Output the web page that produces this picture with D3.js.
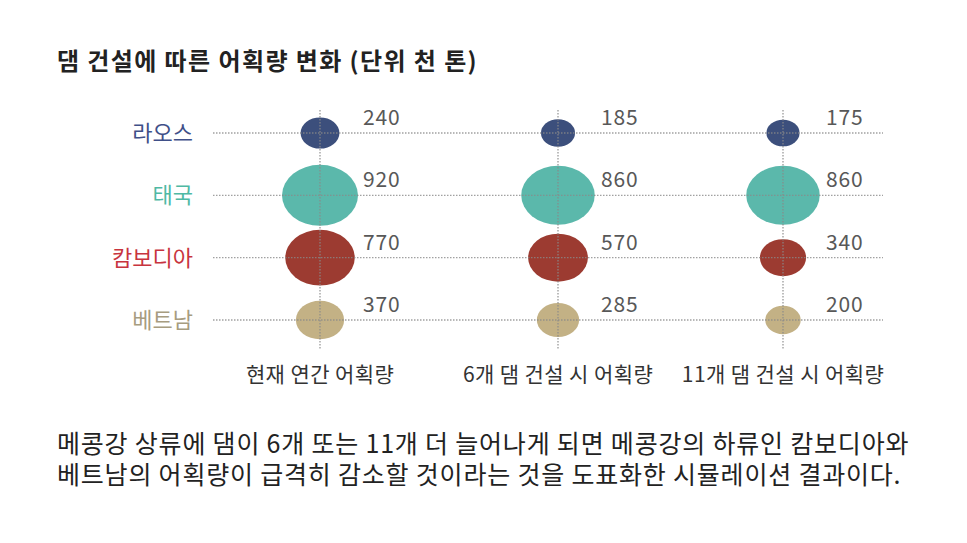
<!DOCTYPE html>
<html>
<head>
<meta charset="utf-8">
<script src="https://cdn.jsdelivr.net/npm/d3@7"></script>
<style>
  body { margin: 0; background: #fff; }
  text { font-family: "Noto Sans CJK KR", "Noto Sans", sans-serif; }
</style>
</head>
<body>
<div id="chart"></div>
<script>
// data (천 톤)
var countries = ["라오스", "태국", "캄보디아", "베트남"];
var scenarios = ["현재 연간 어획량", "6개 댐 건설 시 어획량", "11개 댐 건설 시 어획량"];
var laos = [240, 185, 175];
var thailand = [920, 860, 860];
var cambodia = [770, 570, 340];
var vietnam = [370, 285, 200];

var title = "댐 건설에 따른 어획량 변화 (단위 천 톤)";
var caption = [
    "메콩강 상류에 댐이 6개 또는 11개 더 늘어나게 되면 메콩강의 하류인 캄보디아와",
    "베트남의 어획량이 급격히 감소할 것이라는 것을 도표화한 시뮬레이션 결과이다."
];

var series = [laos, thailand, cambodia, vietnam];
var fillColors = ["#3c4f7c", "#5bb8ab", "#9c3b31", "#c3b185"];
var labelColors = ["#3f4f88", "#4fb9a4", "#c8343e", "#a79c80"];

var width = 967;
var height = 543;

var svg = d3.select("#chart")
    .append("svg")
    .attr("width", width)
    .attr("height", height);

svg.append("rect")
    .attr("width", width)
    .attr("height", height)
    .attr("fill", "#fff");

// title
svg.append("text")
    .attr("x", 57)
    .attr("y", 70)
    .attr("font-size", 24)
    .attr("font-weight", "bold")
    .attr("letter-spacing", 1.4)
    .attr("fill", "#222")
    .text(title);

// scales
var x = d3.scaleOrdinal()
    .domain(scenarios)
    .range([320, 558, 783]);

var y = d3.scalePoint()
    .domain(countries)
    .range([133, 320]);

var rx = d3.scaleSqrt()
    .domain([0, 920])
    .range([0, 38]);

var ry = d3.scaleSqrt()
    .domain([0, 920])
    .range([0, 30.5]);

var cells = [];
countries.forEach(function (c, i) {
    scenarios.forEach(function (s, j) {
        cells.push({ country: c, scenario: s, value: series[i][j], idx: i });
    });
});

// ellipses
svg.selectAll(".bubble")
    .data(cells)
    .enter()
    .append("ellipse")
    .attr("class", "bubble")
    .attr("cx", function (d) { return x(d.scenario); })
    .attr("cy", function (d) { return y(d.country); })
    .attr("rx", function (d) { return rx(d.value); })
    .attr("ry", function (d) { return ry(d.value); })
    .attr("fill", function (d) { return fillColors[d.idx]; });

// dotted grid on top
svg.selectAll(".hline")
    .data(countries)
    .enter()
    .append("line")
    .attr("x1", 213)
    .attr("x2", 883)
    .attr("y1", function (d) { return y(d); })
    .attr("y2", function (d) { return y(d); })
    .attr("stroke", "#8a8a8a")
    .attr("stroke-opacity", 0.8)
    .attr("stroke-width", 1.4)
    .attr("stroke-dasharray", "1.5,1.5");

svg.selectAll(".vline")
    .data(scenarios)
    .enter()
    .append("line")
    .attr("x1", function (d) { return x(d); })
    .attr("x2", function (d) { return x(d); })
    .attr("y1", 110)
    .attr("y2", 350)
    .attr("stroke", "#8a8a8a")
    .attr("stroke-opacity", 0.8)
    .attr("stroke-width", 1.4)
    .attr("stroke-dasharray", "1.5,1.5");

// row labels
svg.selectAll(".rowlabel")
    .data(countries)
    .enter()
    .append("text")
    .attr("x", 193)
    .attr("y", function (d) { return y(d) + 8; })
    .attr("text-anchor", "end")
    .attr("font-size", 22)
    .attr("fill", function (d, i) { return labelColors[i]; })
    .text(function (d) { return d; });

// value labels
svg.selectAll(".val")
    .data(cells)
    .enter()
    .append("text")
    .attr("x", function (d) { return x(d.scenario) + 43; })
    .attr("y", function (d) { return y(d.country) - 8; })
    .attr("font-size", 21)
    .attr("letter-spacing", 0.8)
    .attr("fill", "#585858")
    .text(function (d) { return d.value; });

// column labels
svg.selectAll(".collabel")
    .data(scenarios)
    .enter()
    .append("text")
    .attr("x", function (d) { return x(d); })
    .attr("y", 382)
    .attr("text-anchor", "middle")
    .attr("font-size", 21)
    .attr("letter-spacing", 0.4)
    .attr("fill", "#333")
    .text(function (d) { return d; });

// caption
svg.selectAll(".caption")
    .data(caption)
    .enter()
    .append("text")
    .attr("x", 57)
    .attr("y", function (d, i) { return 453 + i * 31; })
    .attr("font-size", 25)
    .attr("letter-spacing", 0.8)
    .attr("fill", "#222")
    .text(function (d) { return d; });
</script>
</body>
</html>
